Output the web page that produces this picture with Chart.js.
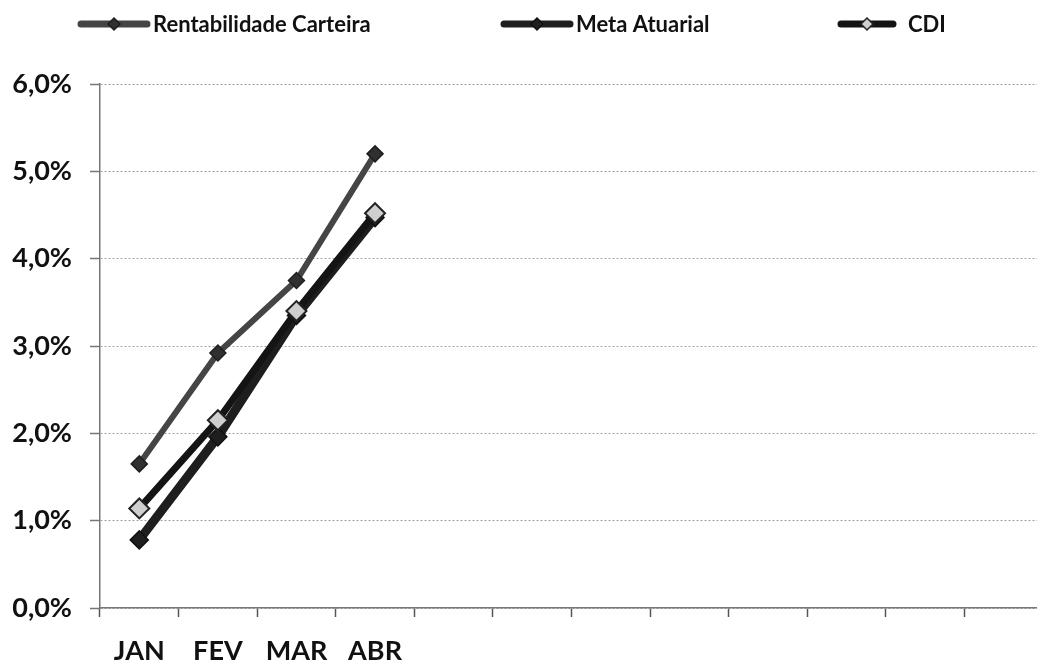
<!DOCTYPE html>
<html lang="pt">
<head>
<meta charset="UTF-8">
<title>Rentabilidade x Meta Atuarial x CDI</title>
<script src="https://cdn.jsdelivr.net/npm/chart.js@4.4.0/dist/chart.umd.min.js"></script>
<style>
    html, body {
        margin: 0;
        padding: 0;
        background: #ffffff;
        overflow: hidden;
    }
    canvas { display: block; }
</style>
</head>
<body>
<canvas id="chart" width="1055" height="664"></canvas>
<script>
// months (only Jan-Apr have labels in the original)
const meses = ['JAN', 'FEV', 'MAR', 'ABR', '', '', '', '', '', '', '', ''];

// values in %
const rentabilidade = [1.65, 2.92, 3.75, 5.20];
const metaAtuarial = [0.78, 1.96, 3.35, 4.47];
const cdi = [1.14, 2.15, 3.40, 4.52];

const yMin = 0;
const yMax = 6;
const yStep = 1;

// legend drawn at the top, one entry per dataset
const legendPlugin = {
    id: 'topLegend',
    afterDraw(chart, args, opts) {
        const ctx = chart.ctx;
        ctx.save();
        ctx.font = opts.font;
        ctx.textBaseline = 'middle';
        ctx.textAlign = 'left';
        chart.data.datasets.forEach((ds, i) => {
            const it = opts.items[i];
            const y = opts.y;
            ctx.lineCap = 'round';
            ctx.strokeStyle = ds.borderColor;
            ctx.lineWidth = 7;
            ctx.beginPath();
            ctx.moveTo(it.x + 3, y);
            ctx.lineTo(it.x + it.w - 3, y);
            ctx.stroke();

            // diamond marker
            const cx = it.x + it.w / 2;
            const r = it.r;
            ctx.beginPath();
            ctx.moveTo(cx, y - r);
            ctx.lineTo(cx + r, y);
            ctx.lineTo(cx, y + r);
            ctx.lineTo(cx - r, y);
            ctx.closePath();
            ctx.fillStyle = ds.pointBackgroundColor;
            ctx.fill();
            ctx.lineWidth = 1.5;
            ctx.strokeStyle = ds.pointBorderColor;
            ctx.stroke();

            ctx.fillStyle = '#111';
            ctx.fillText(ds.label, it.x + it.w + it.gap, y + 1);
        });
        ctx.restore();
    }
};

const ctx = document.getElementById('chart').getContext('2d');
const chart = new Chart(ctx, {
    type: 'line',
    data: {
        labels: meses,
        datasets: [
            {
                label: 'Rentabilidade Carteira',
                data: rentabilidade,
                borderColor: '#454545',
                borderWidth: 6,
                pointStyle: 'rectRot',
                pointRadius: 8,
                pointBackgroundColor: '#303030',
                pointBorderColor: '#1e1e1e',
                pointBorderWidth: 1.5,
                order: 2
            },
            {
                label: 'Meta Atuarial',
                data: metaAtuarial,
                borderColor: '#1e1e1e',
                borderWidth: 9,
                pointStyle: 'rectRot',
                pointRadius: 9,
                pointBackgroundColor: '#1e1e1e',
                pointBorderColor: '#111111',
                pointBorderWidth: 1.5,
                order: 1
            },
            {
                label: 'CDI',
                data: cdi,
                borderColor: '#141414',
                borderWidth: 7,
                pointStyle: 'rectRot',
                pointRadius: 10,
                pointBackgroundColor: '#cfcfcf',
                pointBorderColor: '#222222',
                pointBorderWidth: 2,
                order: 0
            }
        ]
    },
    options: {
        responsive: false,
        animation: false,
        layout: {
            padding: { top: 84, left: 0, right: 0, bottom: 0 }
        },
        plugins: {
            legend: { display: false },
            tooltip: { enabled: false },
            topLegend: {
                y: 24,
                font: 'bold 22px Lato',
                items: [
                    { x: 78, w: 72, gap: 3, r: 6 },
                    { x: 501, w: 72, gap: 3, r: 6 },
                    { x: 838, w: 58, gap: 12, r: 6 }
                ]
            }
        },
        scales: {
            x: {
                offset: true,
                grid: {
                    offset: true,
                    drawOnChartArea: false,
                    tickLength: 9,
                    tickColor: '#555',
                    tickWidth: 1.5
                },
                border: { color: '#777', width: 1.5 },
                ticks: {
                    autoSkip: false,
                    maxRotation: 0,
                    padding: 18,
                    color: '#111',
                    font: { family: 'Lato', weight: 'bold', size: 27 }
                },
                afterFit(scale) { scale.height = 56; }
            },
            y: {
                min: yMin,
                max: yMax,
                grid: {
                    color: '#a0a0a0',
                    lineWidth: 1,
                    tickLength: 10,
                    tickColor: '#777',
                    tickWidth: 1.5
                },
                border: { color: '#777', width: 1.5, dash: [2, 2] },
                ticks: {
                    stepSize: yStep,
                    padding: 18,
                    color: '#111',
                    font: { family: 'Lato', weight: 'bold', size: 27 },
                    callback: v => v.toFixed(1).replace('.', ',') + '%'
                },
                afterFit(scale) { scale.width = 100; }
            }
        }
    },
    plugins: [legendPlugin]
});
</script>
</body>
</html>
